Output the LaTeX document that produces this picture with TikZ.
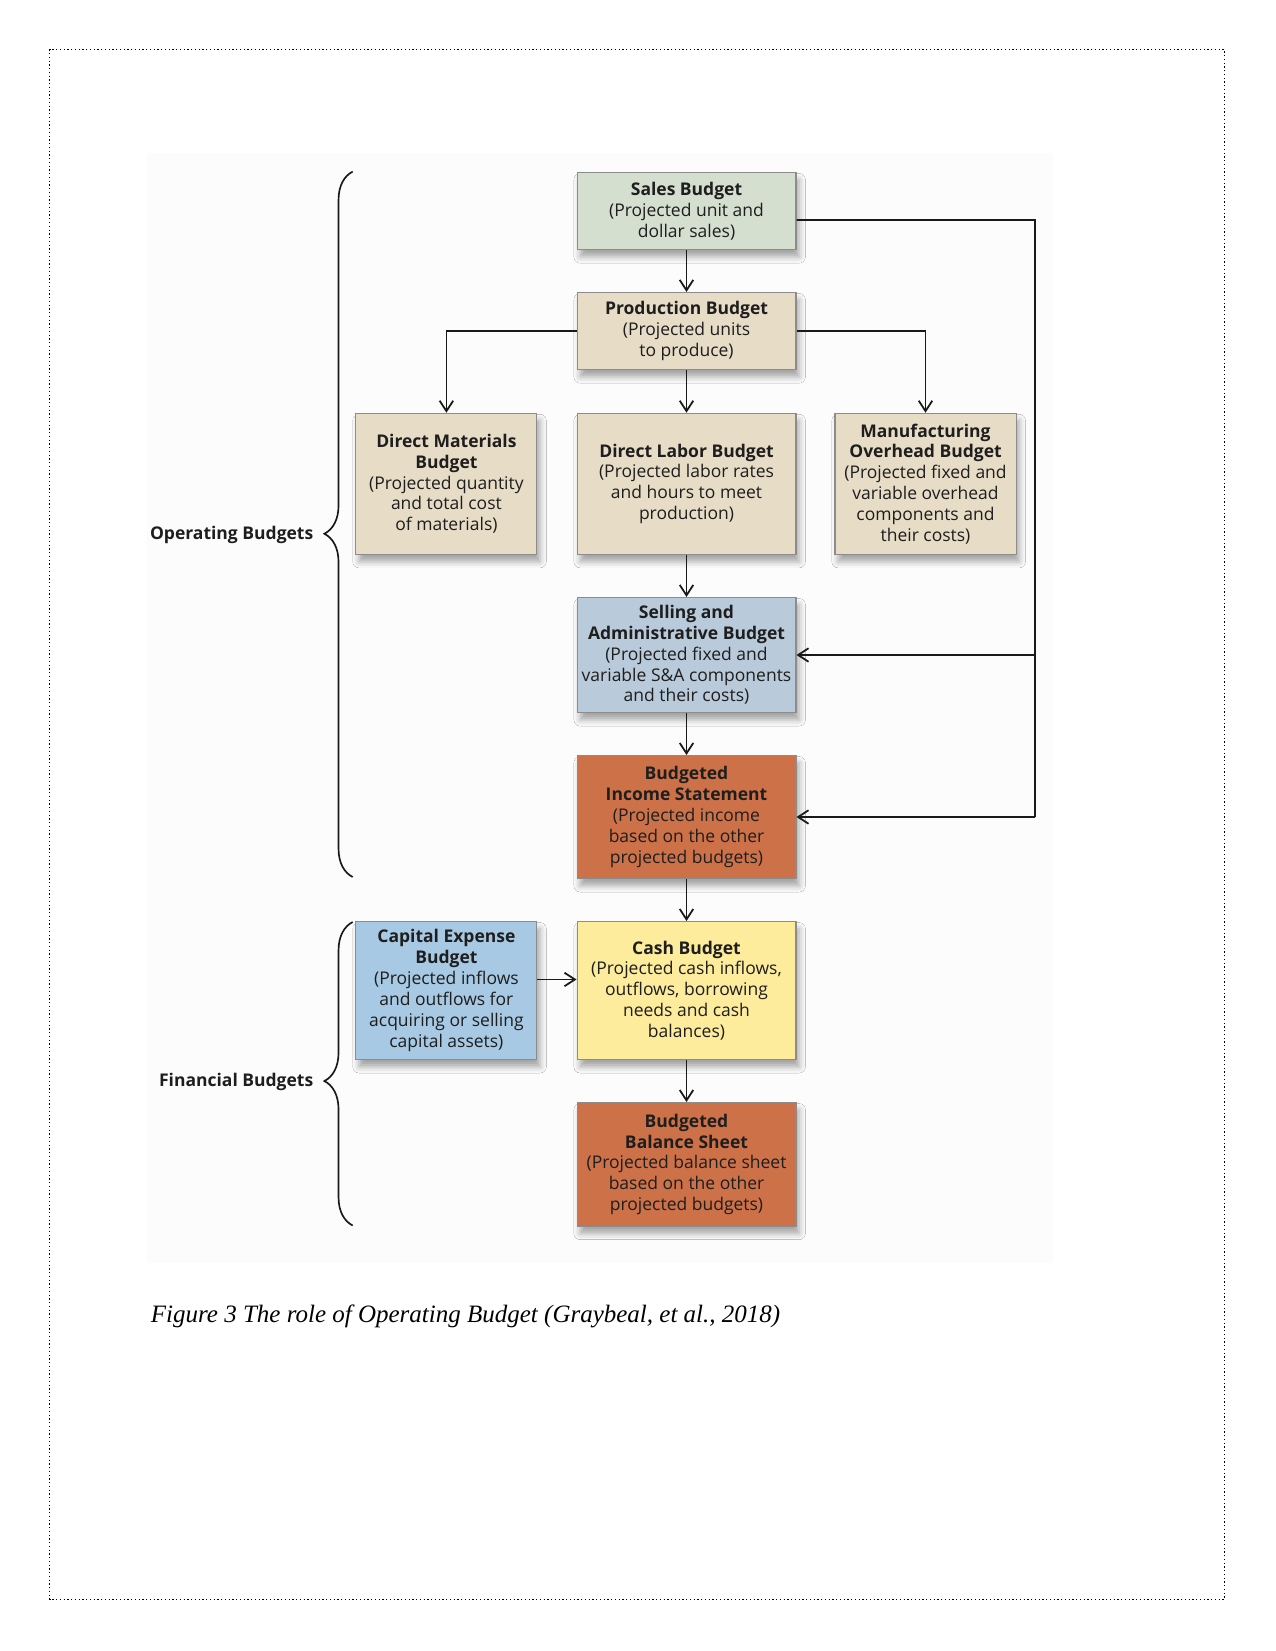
\documentclass[tikz,border=0pt]{standalone}
\usepackage{fontspec}
\newfontfamily\osans{Open Sans}
\newfontfamily\capserif{Liberation Serif}
\usetikzlibrary{arrows.meta,shadows.blur,decorations.pathreplacing,calc}
\definecolor{salesc}{HTML}{D4DFCF}
\definecolor{tanc}{HTML}{E7DCC6}
\definecolor{sac}{HTML}{B9CADA}
\definecolor{orc}{HTML}{CD7149}
\definecolor{capc}{HTML}{A8C9E3}
\definecolor{cashc}{HTML}{FCEC9C}
\definecolor{edgec}{HTML}{8C8C8C}
\definecolor{txt}{HTML}{1E1E1E}
\definecolor{bgc}{HTML}{FCFCFC}
\begin{document}
\begin{tikzpicture}[x=0.48pt,y=-0.48pt,
 box/.style={draw=edgec, line width=0.5pt, align=center, text=txt, inner sep=2pt,
   font=\osans\fontsize{8.4}{10}\selectfont,
   blur shadow={shadow xshift=1.5pt, shadow yshift=-3.5pt, shadow opacity=35, shadow blur radius=3pt}},
 wide/.style={box, minimum width=105.1pt},
 narrow/.style={box, minimum width=86.9pt},
 conn/.style={line width=0.85pt, draw=black!90},
 arr/.style={conn, -{Straight Barb[length=5pt,width=6.5pt]}},
 lab/.style={font=\osans\fontsize{8.4}{10}\selectfont\bfseries, text=txt, inner sep=0pt},
 bracestyle/.style={line width=0.8pt, draw=black!90, decorate},
]
\useasboundingbox (0,0) rectangle (1275,1651);
\fill[white] (0,0) rectangle (1275,1651);
\fill[bgc] (147,153) rectangle (1053,1263);
\draw[black, line width=0.6pt, dash pattern=on 0.6pt off 1.2pt] (49.5,49.5) rectangle (1224.4,1599.2);

\node[wide, fill=salesc, minimum height=37pt] (sales) at (686.5,211) {\textbf{Sales Budget}\\(Projected unit and\\dollar sales)};
\node[wide, fill=tanc, minimum height=37pt] (prod) at (686.5,331) {\textbf{Production Budget}\\(Projected units\\to produce)};
\node[narrow, fill=tanc, minimum height=67.7pt] (dm) at (446.4,483.8) {\textbf{Direct Materials}\\\textbf{Budget}\\(Projected quantity\\and total cost\\of materials)};
\node[wide, fill=tanc, minimum height=67.7pt] (dl) at (686.5,483.8) {\textbf{Direct Labor Budget}\\(Projected labor rates\\and hours to meet\\production)};
\node[narrow, fill=tanc, minimum height=67.7pt] (mo) at (925.5,483.8) {\textbf{Manufacturing}\\\textbf{Overhead Budget}\\(Projected fixed and\\variable overhead\\components and\\their costs)};
\node[wide, fill=sac, minimum height=55.2pt] (sa) at (686.5,655) {\textbf{Selling and}\\\textbf{Administrative Budget}\\(Projected fixed and\\variable S\&A components\\and their costs)};
\node[wide, fill=orc, minimum height=59pt] (inc) at (686.5,817) {\textbf{Budgeted}\\\textbf{Income Statement}\\(Projected income\\based on the other\\projected budgets)};
\node[narrow, fill=capc, minimum height=66.2pt] (capx) at (446.4,990.5) {\textbf{Capital Expense}\\\textbf{Budget}\\(Projected inflows\\and outflows for\\acquiring or selling\\capital assets)};
\node[wide, fill=cashc, minimum height=66.2pt] (cash) at (686.5,990.5) {\textbf{Cash Budget}\\(Projected cash inflows,\\outflows, borrowing\\needs and cash\\balances)};
\node[wide, fill=orc, minimum height=59.3pt] (bal) at (686.5,1164.3) {\textbf{Budgeted}\\\textbf{Balance Sheet}\\(Projected balance sheet\\based on the other\\projected budgets)};

\draw[arr] (sales) -- (prod);
\draw[arr] (prod.west) -| (dm.north);
\draw[arr] (prod) -- (dl);
\draw[arr] (prod.east) -| (mo.north);
\draw[arr] (dl) -- (sa);
\draw[arr] (sa) -- (inc);
\draw[arr] (inc) -- (cash);
\draw[arr] (cash) -- (bal);
\draw[arr] ([yshift=5.3pt]capx.east) -- ([yshift=5.3pt]cash.west);

\coordinate (rtop) at (1035,220);
\coordinate (rsa) at (1035,655);
\coordinate (rinc) at (1035,817);
\draw[conn] ([yshift=-4.3pt]sales.east) -- (rtop) -- (rinc);
\draw[arr] (rinc) -- (inc.east);
\draw[arr] (rsa) -- (sa.east);

\coordinate (ob1) at (352.7,877);
\coordinate (ob2) at (352.7,171.6);
\coordinate (fb1) at (352.7,1225.5);
\coordinate (fb2) at (352.7,922);
\draw[bracestyle, decoration={brace, amplitude=13.6pt, aspect=0.4866}] (ob1) -- (ob2);
\draw[bracestyle, decoration={brace, amplitude=13.6pt, aspect=0.476}] (fb1) -- (fb2);

\node[lab, anchor=east] (oplab) at (313.7,534.5) {Operating Budgets};
\node[lab, anchor=east] (finlab) at (313.7,1081.5) {Financial Budgets};

\node[anchor=base west, inner sep=0pt, font=\capserif\itshape\fontsize{12}{14}\selectfont] (caption) at (150.5,1322) {Figure 3 The role of Operating Budget (Graybeal, et al., 2018)};
\end{tikzpicture}
\end{document}
